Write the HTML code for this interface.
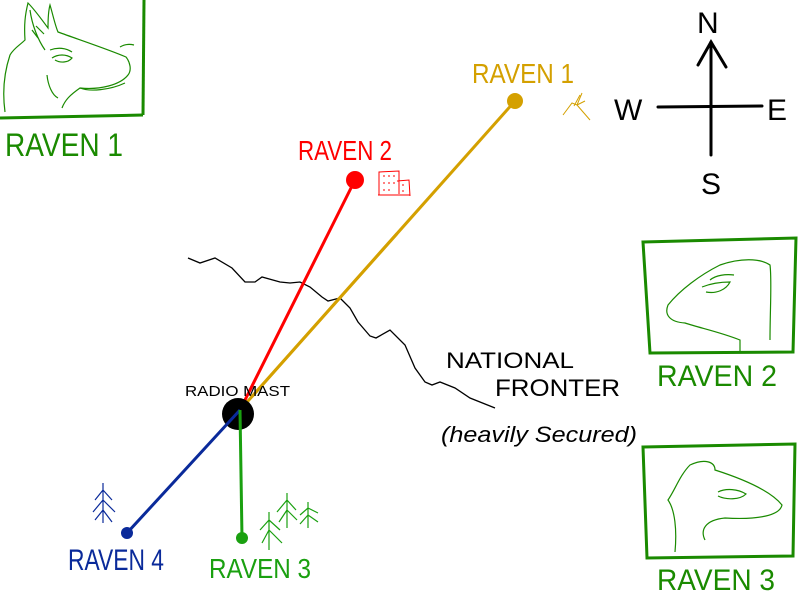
<!DOCTYPE html>
<html><head><meta charset="utf-8"><style>
html,body{margin:0;padding:0;background:#fff;width:800px;height:600px;overflow:hidden}
svg{display:block}
text{font-family:"Liberation Sans","DejaVu Sans",sans-serif}
</style></head><body>
<svg width="800" height="600" viewBox="0 0 800 600" xmlns="http://www.w3.org/2000/svg">
<rect width="800" height="600" fill="#fff"/>
<!-- top-left frame -->
<g stroke="#1a8a00" fill="none">
<path d="M144 0 L143 115" stroke-width="3"/>
<path d="M0 118 L143 115" stroke-width="3"/>
<g stroke-width="1.2">
<path d="M5 112 C2 90 5 70 10 55 C14 48 20 45 25 40 C24 25 25 15 28 3 C35 10 42 20 48 28 C48 20 48 12 50 5 C53 15 55 25 58 32 C80 40 110 50 126 57 C130 62 132 70 128 75 C120 85 100 90 80 88 C70 95 65 100 62 108"/>
<path d="M50 50 C58 47 66 48 72 52 M52 58 C58 54 66 54 72 58 C68 63 60 63 55 60 M47 75 C48 85 52 95 58 98 M80 88 C90 92 110 90 125 83 M120 47 C125 44 130 44 134 45"/>
<path d="M30 10 C32 25 38 40 45 50 M32 30 L38 38 M36 26 L44 34"/>
</g></g>
<text x="5" y="156" font-size="32" fill="#1a8a00" textLength="118" lengthAdjust="spacingAndGlyphs">RAVEN 1</text>
<!-- compass -->
<g stroke="#000" stroke-width="3" fill="none" stroke-linecap="round">
<path d="M711 42 L711 155"/><path d="M658 107 L762 106"/><path d="M698 65 L711 42 L726 67"/>
</g>
<text x="697" y="33" font-size="30" fill="#000">N</text>
<text x="614" y="120" font-size="30" fill="#000">W</text>
<text x="767" y="120" font-size="30" fill="#000">E</text>
<text x="701" y="194" font-size="30" fill="#000">S</text>
<!-- wavy border -->
<path d="M188 258 L200 263 L215 258 L232 268 L245 282 L255 282 L262 277 L280 282 L290 283 L300 282 L310 287 L322 297 L328 301 L340 298 L350 308 L358 322 L370 336 L376 338 L390 330 L405 345 L415 368 L425 382 L432 385 L440 382 L455 388 L470 398 L495 408" stroke="#000" stroke-width="1.3" fill="none"/>
<text x="446" y="368" font-size="22" fill="#000" textLength="128" lengthAdjust="spacingAndGlyphs">NATIONAL</text>
<text x="495" y="396" font-size="24" fill="#000" textLength="125" lengthAdjust="spacingAndGlyphs">FRONTER</text>
<text x="441" y="442" font-size="22" fill="#000" textLength="196" lengthAdjust="spacingAndGlyphs" font-style="italic">(heavily Secured)</text>
<!-- lines -->
<line x1="240" y1="410" x2="515" y2="101" stroke="#d4a000" stroke-width="3"/>
<line x1="240" y1="410" x2="355" y2="180" stroke="#ff0000" stroke-width="3"/>
<circle cx="238" cy="414" r="16" fill="#000"/>
<line x1="240" y1="410" x2="127" y2="533" stroke="#0a2a9a" stroke-width="3"/>
<line x1="240" y1="410" x2="242" y2="538" stroke="#1aa010" stroke-width="3"/>
<line x1="240" y1="410" x2="515" y2="101" stroke="#d4a000" stroke-width="3" stroke-dasharray="0 18 200"/>
<circle cx="515" cy="101" r="8" fill="#d4a000"/>
<circle cx="355" cy="180" r="9" fill="#ff0000"/>
<circle cx="127" cy="533" r="6" fill="#0a2a9a"/>
<circle cx="242" cy="538" r="6" fill="#1aa010"/>
<text x="185" y="396" font-size="15" fill="#000" textLength="105" lengthAdjust="spacingAndGlyphs">RADIO MAST</text>
<text x="472" y="83" font-size="28" fill="#d4a000" textLength="102" lengthAdjust="spacingAndGlyphs">RAVEN 1</text>
<text x="298" y="160" font-size="28" fill="#ff0000" textLength="94" lengthAdjust="spacingAndGlyphs">RAVEN 2</text>
<text x="68" y="570" font-size="30" fill="#0a2a9a" textLength="96" lengthAdjust="spacingAndGlyphs">RAVEN 4</text>
<text x="209" y="578" font-size="28" fill="#1aa010" textLength="102" lengthAdjust="spacingAndGlyphs">RAVEN 3</text>
<!-- building -->
<g stroke="#ff0000" stroke-width="1" fill="none">
<path d="M379 195 L379 172 L399 171 L399 194 M397 181 L409 180 L410 196 M378 195 L410 195"/>
<path d="M383 176h2M388 176h2M393 176h2M383 183h2M388 183h2M393 183h2M383 190h2M388 190h2M402 185h2M402 191h2"/>
</g>
<!-- bird -->
<path d="M563 115 L572 103 L577 105 L582 93 M577 105 L585 101 M577 105 L590 120 M574 106 L580 95" stroke="#d4a000" stroke-width="1" fill="none"/>
<!-- trees -->
<g stroke="#0a2a9a" stroke-width="1.2" fill="none">
<path d="M103 523 L103 483 M103 490 L95 500 M103 490 L112 500 M103 500 L93 512 M103 500 L115 512 M103 510 L95 520 M103 510 L112 522"/>
</g>
<g stroke="#1aa010" stroke-width="1.2" fill="none">
<path d="M269 550 L269 512 M269 520 L260 530 M269 520 L280 530 M269 530 L262 543 M269 530 L282 543"/>
<path d="M287 528 L287 493 M287 500 L277 512 M287 500 L296 510 M287 510 L279 522 M287 510 L297 520"/>
<path d="M308 528 L308 502 M308 508 L300 515 M308 508 L318 513 M308 515 L300 524 M308 515 L318 522"/>
</g>
<!-- right frames -->
<g stroke="#1a8a00" fill="none">
<path d="M643 242 L796 238 L793 352 L650 353 Z" stroke-width="3"/>
<path d="M643 447 L795 444 L793 556 L647 558 Z" stroke-width="3"/>
<g stroke-width="1.2">
<path d="M740 351 L740 340 C720 332 700 328 685 323 C670 322 664 315 668 305 C680 290 700 275 720 265 C740 258 760 258 770 265 C772 280 770 310 770 340"/>
<path d="M702 287 C712 283 722 282 730 282 C726 290 716 294 706 292 M710 280 C716 275 726 274 734 275"/>
<path d="M675 552 C677 530 675 510 668 500 C675 490 680 475 690 465 C705 458 715 462 715 470 C740 478 770 490 782 505 C780 515 760 520 725 518 C705 520 700 530 705 540"/>
<path d="M718 492 C726 488 738 489 746 494 C740 500 726 500 718 496"/>
</g></g>
<text x="657" y="386" font-size="30" fill="#1a8a00" textLength="120" lengthAdjust="spacingAndGlyphs">RAVEN 2</text>
<text x="657" y="590" font-size="30" fill="#1a8a00" textLength="118" lengthAdjust="spacingAndGlyphs">RAVEN 3</text>
</svg>
</body></html>
